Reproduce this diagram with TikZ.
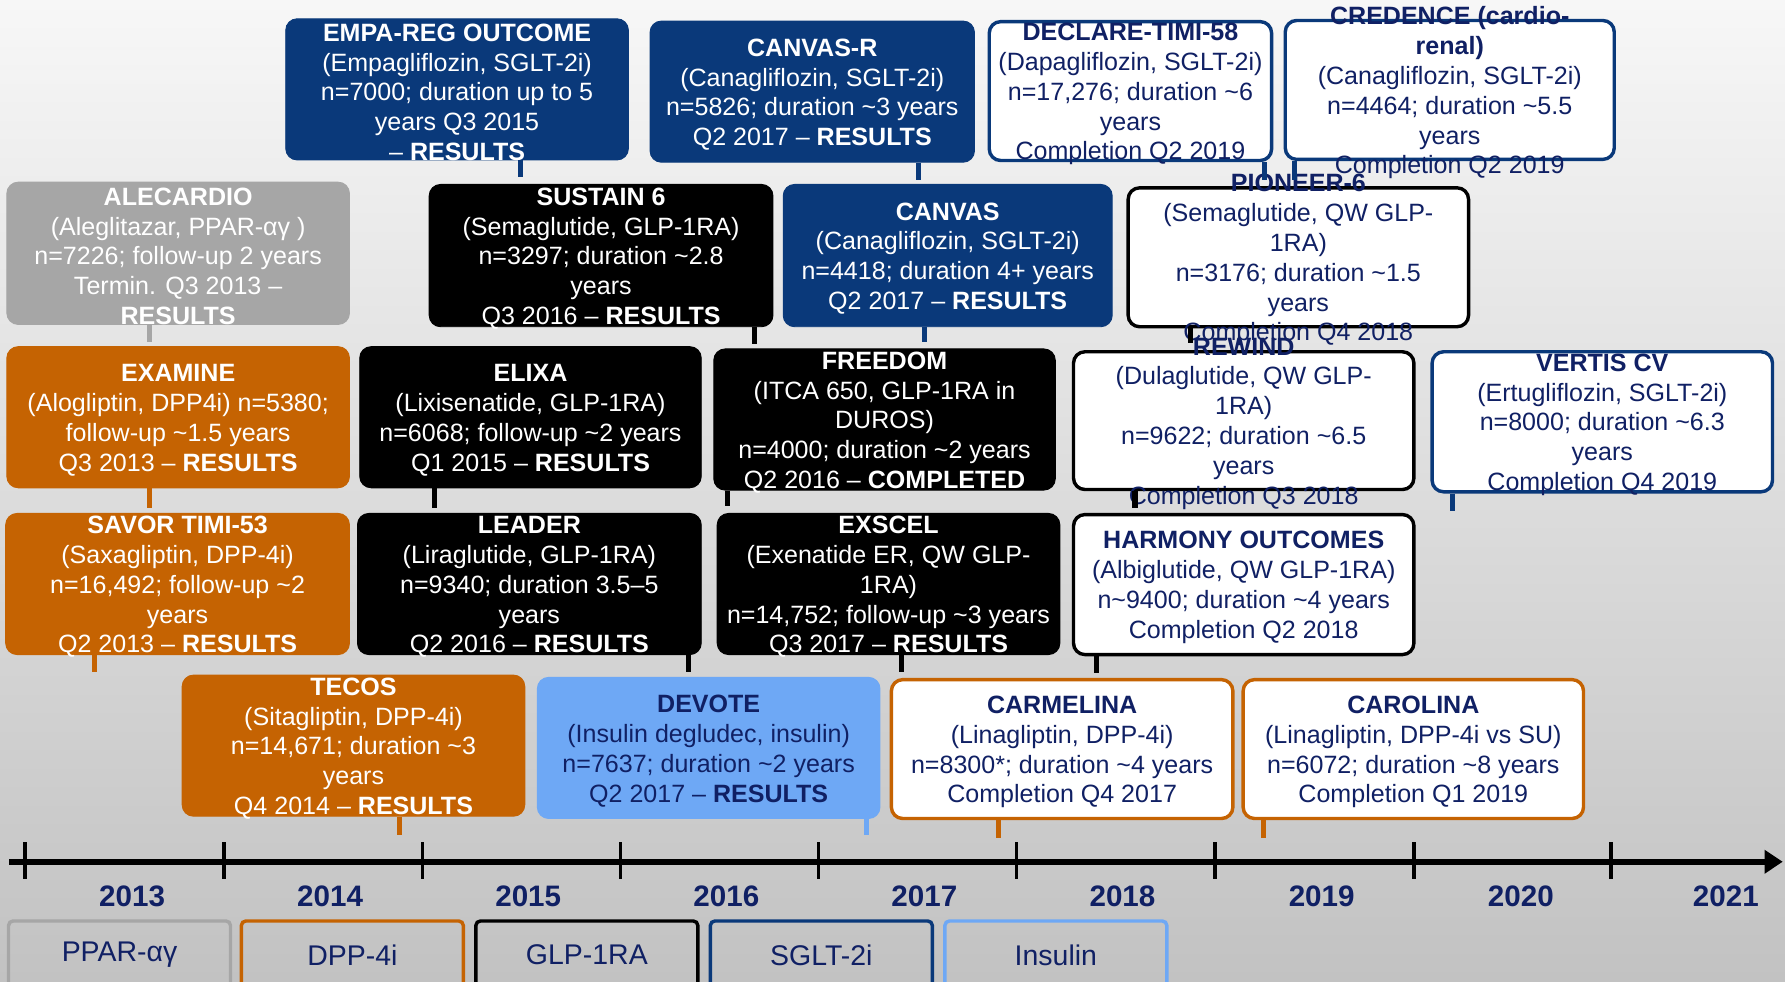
\documentclass[tikz,border=0pt]{standalone}
\usepackage{fontspec}
\setmainfont{Liberation Sans}
\usetikzlibrary{arrows.meta,positioning}
\definecolor{sgltblue}{RGB}{10,57,122}
\definecolor{dpporange}{RGB}{197,99,2}
\definecolor{ppargray}{RGB}{166,166,166}
\definecolor{insblue}{RGB}{110,168,245}
\definecolor{navytext}{RGB}{16,32,100}
\definecolor{bgtop}{RGB}{247,247,247}
\definecolor{bgbottom}{RGB}{194,194,194}
\newcommand{\apx}{\textasciitilde}

\begin{document}
\begin{tikzpicture}[
    x=0.5pt, y=-0.5pt,
    trial/.style={rectangle, rounded corners=5pt, inner sep=0pt,
        minimum width=150.5pt, minimum height=62pt},
    colbox/.style={trial, draw=#1, fill=#1},
    openbox/.style={trial, draw=#1, fill=white, line width=1.5pt},
    trialtxt/.style={align=center, inner sep=0pt, text=#1, yshift=-1.3pt,
        font=\fontsize{11}{13.1}\selectfont},
    stem/.style={line width=2.3pt, draw=#1},
    tick/.style={line width=1.6pt},
    yearlbl/.style={font=\fontsize{13}{15}\selectfont\bfseries, text=navytext},
    legbox/.style={rectangle, rounded corners=2pt, draw=#1, line width=1.5pt,
        minimum width=97.5pt, minimum height=30pt,
        font=\fontsize{12.5}{15}\selectfont, text=navytext},
]

% === Canvas and background ===
\useasboundingbox (0,0) rectangle (1568,862);
\fill[top color=bgtop, bottom color=bgbottom] (0,0) rectangle (1568,862);

% === Row 1 ===
\node[colbox=sgltblue] (empa) at (401.5,78.5) {};
\node[trialtxt=white] at (empa) {\textbf{EMPA-REG OUTCOME}\\(Empagliflozin, SGLT-2i)\\n=7000; duration up to 5\\years Q3 2015\\-- \textbf{RESULTS}};

\node[colbox=sgltblue, minimum width=142.5pt] (canvasr) at (713.5,80.5) {};
\node[trialtxt=white] at (canvasr) {\textbf{CANVAS-R}\\(Canagliflozin, SGLT-2i)\\n=5826; duration \apx3 years\\Q2 2017 -- \textbf{RESULTS}};

\node[openbox=sgltblue, minimum width=124pt, minimum height=61pt] (declare) at (993,80) {};
\node[trialtxt=navytext] at (declare) {\textbf{DECLARE-TIMI-58}\\(Dapagliflozin, SGLT-2i)\\n=17,276; duration \apx6\\years\\Completion Q2 2019};

\node[openbox=sgltblue, minimum width=144.5pt, minimum height=61pt] (credence) at (1273.5,79) {};
\node[trialtxt=navytext] at (credence) {\textbf{CREDENCE (cardio-}\\\textbf{renal)}\\(Canagliflozin, SGLT-2i)\\n=4464; duration \apx5.5\\years\\Completion Q2 2019};

% === Row 2 ===
\node[colbox=ppargray, minimum height=62.5pt] (alecardio) at (156.5,222.5) {};
\node[trialtxt=white] at (alecardio) {\textbf{ALECARDIO}\\(Aleglitazar, PPAR-αγ )\\n=7226; follow-up 2 years\\Termin. Q3 2013 --\\\textbf{RESULTS}};

\node[colbox=black, minimum width=151pt, minimum height=62.5pt] (sustain) at (528,224.5) {};
\node[trialtxt=white] at (sustain) {\textbf{SUSTAIN 6}\\(Semaglutide, GLP-1RA)\\n=3297; duration \apx2.8\\years\\Q3 2016 -- \textbf{RESULTS}};

\node[colbox=sgltblue, minimum width=144.5pt, minimum height=62.5pt] (canvas) at (832.5,224.5) {};
\node[trialtxt=white] at (canvas) {\textbf{CANVAS}\\(Canagliflozin, SGLT-2i)\\n=4418; duration 4+ years\\Q2 2017 -- \textbf{RESULTS}};

\node[openbox=black, minimum width=149.5pt, minimum height=61pt] (pioneer) at (1140.5,226) {};
\node[trialtxt=navytext] at (pioneer) {\textbf{PIONEER-6}\\(Semaglutide, QW GLP-\\1RA)\\n=3176; duration \apx1.5\\years\\Completion Q4 2018};

% === Row 3 ===
\node[colbox=dpporange] (examine) at (156.5,366.5) {};
\node[trialtxt=white] at (examine) {\textbf{EXAMINE}\\(Alogliptin, DPP4i) n=5380;\\follow-up \apx1.5 years\\Q3 2013 -- \textbf{RESULTS}};

\node[colbox=black, minimum width=150pt] (elixa) at (466,366.5) {};
\node[trialtxt=white] at (elixa) {\textbf{ELIXA}\\(Lixisenatide, GLP-1RA)\\n=6068; follow-up \apx2 years\\Q1 2015 -- \textbf{RESULTS}};

\node[colbox=black, minimum width=150pt] (freedom) at (777,368.5) {};
\node[trialtxt=white] at (freedom) {\textbf{FREEDOM}\\(ITCA 650, GLP-1RA in\\DUROS)\\n=4000; duration \apx2 years\\Q2 2016 -- \textbf{COMPLETED}};

\node[openbox=black, minimum width=149.5pt, minimum height=60.5pt] (rewind) at (1092.5,369.5) {};
\node[trialtxt=navytext] at (rewind) {\textbf{REWIND}\\(Dulaglutide, QW GLP-\\1RA)\\n=9622; duration \apx6.5\\years\\Completion Q3 2018};

\node[openbox=sgltblue, minimum width=149.5pt, minimum height=61.5pt] (vertis) at (1407.5,370.5) {};
\node[trialtxt=navytext] at (vertis) {\textbf{VERTIS CV}\\(Ertugliflozin, SGLT-2i)\\n=8000; duration \apx6.3\\years\\Completion Q4 2019};

% === Row 4 ===
\node[colbox=dpporange, minimum width=151pt] (savor) at (156,513) {};
\node[trialtxt=white] at (savor) {\textbf{SAVOR TIMI-53}\\(Saxagliptin, DPP-4i)\\n=16,492; follow-up \apx2\\years\\Q2 2013 -- \textbf{RESULTS}};

\node[colbox=black, minimum width=151pt] (leader) at (465,513) {};
\node[trialtxt=white] at (leader) {\textbf{LEADER}\\(Liraglutide, GLP-1RA)\\n=9340; duration 3.5--5\\years\\Q2 2016 -- \textbf{RESULTS}};

\node[colbox=black] (exscel) at (780.5,513) {};
\node[trialtxt=white] at (exscel) {\textbf{EXSCEL}\\(Exenatide ER, QW GLP-\\1RA)\\n=14,752; follow-up \apx3 years\\Q3 2017 -- \textbf{RESULTS}};

\node[openbox=black, minimum width=149.5pt, minimum height=61.5pt] (harmony) at (1092.5,513.5) {};
\node[trialtxt=navytext] at (harmony) {\textbf{HARMONY OUTCOMES}\\(Albiglutide, QW GLP-1RA)\\n\apx9400; duration \apx4 years\\Completion Q2 2018};

% === Row 5 ===
\node[colbox=dpporange] (tecos) at (310.5,655) {};
\node[trialtxt=white] at (tecos) {\textbf{TECOS}\\(Sitagliptin, DPP-4i)\\n=14,671; duration \apx3\\years\\Q4 2014 -- \textbf{RESULTS}};

\node[colbox=insblue] (devote) at (622.5,657) {};
\node[trialtxt=navytext] at (devote) {\textbf{DEVOTE}\\(Insulin degludec, insulin)\\n=7637; duration \apx2 years\\Q2 2017 -- \textbf{RESULTS}};

\node[openbox=dpporange, minimum width=150pt, minimum height=61pt] (carmelina) at (933,658) {};
\node[trialtxt=navytext] at (carmelina) {\textbf{CARMELINA}\\(Linagliptin, DPP-4i)\\n=8300*; duration \apx4 years\\Completion Q4 2017};

\node[openbox=dpporange, minimum width=149.5pt, minimum height=61pt] (carolina) at (1241.5,658) {};
\node[trialtxt=navytext] at (carolina) {\textbf{CAROLINA}\\(Linagliptin, DPP-4i vs SU)\\n=6072; duration \apx8 years\\Completion Q1 2019};

% === Stems below the boxes ===
\draw[stem=sgltblue] (empa.south -| 457,0) -- ++(0,15);
\draw[stem=sgltblue] (canvasr.south -| 807,0) -- ++(0,15);
\draw[stem=sgltblue] (declare.south -| 1111,0) -- ++(0,16);
\draw[stem=sgltblue] (credence.south -| 1137,0) -- ++(0,17);
\draw[stem=ppargray] (alecardio.south -| 131,0) -- ++(0,15);
\draw[stem=black] (sustain.south -| 663,0) -- ++(0,15);
\draw[stem=sgltblue] (canvas.south -| 812,0) -- ++(0,13);
\draw[stem=black] (pioneer.south -| 1046,0) -- ++(0,13);
\draw[stem=dpporange] (examine.south -| 131,0) -- ++(0,17);
\draw[stem=black] (elixa.south -| 382,0) -- ++(0,17);
\draw[stem=black] (freedom.south -| 639,0) -- ++(0,14);
\draw[stem=black] (rewind.south -| 997,0) -- ++(0,15);
\draw[stem=sgltblue] (vertis.south -| 1276,0) -- ++(0,15);
\draw[stem=dpporange] (savor.south -| 83,0) -- ++(0,15);
\draw[stem=black] (leader.south -| 605,0) -- ++(0,15);
\draw[stem=black] (exscel.south -| 792,0) -- ++(0,15);
\draw[stem=black] (harmony.south -| 963,0) -- ++(0,15);
\draw[stem=dpporange] (tecos.south -| 351,0) -- ++(0,16);
\draw[stem=insblue] (devote.south -| 761,0) -- ++(0,14);
\draw[stem=dpporange] (carmelina.south -| 877,0) -- ++(0,16);
\draw[stem=dpporange] (carolina.south -| 1110,0) -- ++(0,16);

% === Timeline ===
\coordinate (tlstart) at (8,757);
\coordinate (tlend) at (1566,757);
\draw[line width=2.5pt, -{Triangle[length=8pt,width=10pt]}] (tlstart) -- (tlend);
\foreach \tx in {22,197,371,545,719,893,1067,1242,1415}
    \draw[tick] (\tx,740) -- (\tx,772);
\foreach \yx/\yr in {116/2013,290/2014,464/2015,638/2016,812/2017,986/2018,1161/2019,1336/2020,1516/2021}
    \node[yearlbl] (y\yr) at (\yx,787) {\yr};

% === Legend ===
\node[legbox=ppargray] (legppar) at (105,839) {PPAR-αγ};
\node[legbox=dpporange] (legdpp) at (309.5,839) {DPP-4i};
\node[legbox=black] (legglp) at (515.5,839) {GLP-1RA};
\node[legbox=sgltblue] (legsglt) at (721.5,839) {SGLT-2i};
\node[legbox=insblue] (legins) at (927.5,839) {Insulin};

\end{tikzpicture}
\end{document}
